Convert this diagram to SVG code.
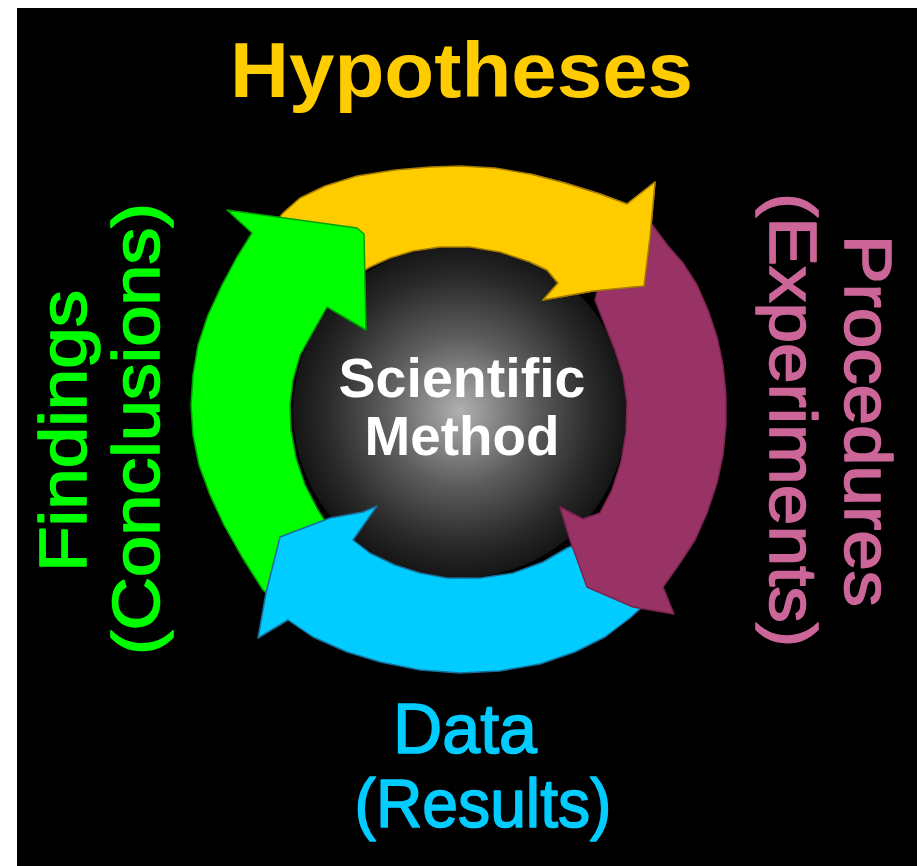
<svg xmlns="http://www.w3.org/2000/svg" xmlns:xlink="http://www.w3.org/1999/xlink" width="921" height="866" viewBox="0 0 921 866">
  <defs>
    <radialGradient id="sphereGrad" cx="0.5" cy="0.5" r="0.5">
      <stop offset="0" stop-color="#b0b0b0"/>
      <stop offset="0.45" stop-color="#5c5c5c"/>
      <stop offset="0.8" stop-color="#2a2a2a"/>
      <stop offset="1" stop-color="#151515"/>
    </radialGradient>
    <clipPath id="yellowHeadClip">
      <rect x="530" y="150" width="180" height="160"/>
    </clipPath>
    <path id="yellowShape" d="M265,235 L283,213 L300,198 L325,186 L357,176 L395,170 L430,167 L460,166 L495,168 L530,174 L565,183 L600,194 L627,204 L655,182 L650,237 L644,286 L593,291 L543,300 L558,283 L547,270 L530,262 L500,252 L470,247 L440,247 L413,251 L390,258 L370,267 L340,285 Z"/>
  </defs>
  <style>
    .lbl { font-family: "Liberation Sans", Arial, sans-serif; font-weight: bold; }
    .side { font-family: "Liberation Sans", Arial, sans-serif; font-weight: normal; stroke-width: 1.6; stroke-linejoin: round; }
    .arrow { stroke-width: 1.5; stroke-linejoin: round; }
    .yellow { fill: #ffcc00; stroke: #a67c00; }
    .green { fill: #00ff00; stroke: #00a000; }
    .cyan { fill: #00ccff; stroke: #1a6e9a; }
    .purple { fill: #993366; stroke: #7a2450; }
  </style>

  <rect x="0" y="0" width="921" height="866" fill="#ffffff"/>
  <rect x="17" y="8" width="900" height="858" fill="#000000"/>

  <g id="center">
    <circle cx="460" cy="411" r="167" fill="url(#sphereGrad)"/>
    <text class="lbl" x="462" y="397" font-size="56" fill="#ffffff" text-anchor="middle" textLength="247" lengthAdjust="spacingAndGlyphs">Scientific</text>
    <text class="lbl" x="462" y="455" font-size="56" fill="#ffffff" text-anchor="middle" textLength="195" lengthAdjust="spacingAndGlyphs">Method</text>
  </g>

  <g id="connectors">
    <use id="arrow-hypotheses" xlink:href="#yellowShape" class="arrow yellow"/>
    <path id="arrow-findings" class="arrow green" d="M227,210 L357,228 L364,234 L366,330 L327,307 L310,337 L300,355 L293,380 L290,405 L291,430 L296,458 L305,485 L318,510 L340,545 L285,610 L263,590 L242,557 L224,525 L210,495 L199,465 L193,435 L191,405 L193,375 L198,345 L208,315 L222,285 L237,257 L252,233 Z"/>
    <path id="arrow-data" class="arrow cyan" d="M258,638 L266,593 L280,537 L330,518 L363,512 L377,506 L353,540 L370,553 L395,565 L420,573 L447,578 L480,578 L513,573 L543,562 L567,548 L600,535 L650,600 L630,618 L605,637 L575,652 L540,664 L500,671 L460,673 L420,670 L380,662 L347,652 L313,637 L288,620 Z"/>
    <path id="arrow-procedures" class="arrow purple" d="M645,215 L668,246 L683,263 L697,285 L708,310 L717,337 L723,365 L726,395 L726,425 L723,455 L717,483 L707,513 L695,540 L680,563 L663,587 L674,614 L633,607 L587,587 L570,540 L560,507 L583,519 L600,513 L612,490 L621,462 L626,432 L627,403 L623,375 L615,350 L605,325 L595,300 L600,280 Z"/>
    <use xlink:href="#yellowShape" class="arrow yellow" clip-path="url(#yellowHeadClip)"/>
  </g>

  <g id="hypotheses">
    <text class="lbl" x="461.5" y="97" font-size="77" fill="#ffcc00" text-anchor="middle" textLength="463" lengthAdjust="spacingAndGlyphs">Hypotheses</text>
  </g>

  <g id="procedures">
    <text class="side" transform="translate(845,421) rotate(90)" x="0" y="0" font-size="66" fill="#cc6699" stroke="#cc6699" text-anchor="middle" textLength="372" lengthAdjust="spacingAndGlyphs">Procedures</text>
    <text class="side" transform="translate(770,420) rotate(90)" x="0" y="0" font-size="66" fill="#cc6699" stroke="#cc6699" text-anchor="middle" textLength="454" lengthAdjust="spacingAndGlyphs">(Experiments)</text>
  </g>

  <g id="data">
    <text class="side" x="465" y="753" font-size="71" fill="#00ccff" stroke="#00ccff" text-anchor="middle" textLength="144" lengthAdjust="spacingAndGlyphs">Data</text>
    <text class="side" x="483" y="827" font-size="68" fill="#00ccff" stroke="#00ccff" text-anchor="middle" textLength="257" lengthAdjust="spacingAndGlyphs">(Results)</text>
  </g>

  <g id="findings">
    <text class="side" transform="translate(86,431) rotate(-90)" x="0" y="0" font-size="66" fill="#00ff00" stroke="#00ff00" text-anchor="middle" textLength="282" lengthAdjust="spacingAndGlyphs">Findings</text>
    <text class="side" transform="translate(159,429) rotate(-90)" x="0" y="0" font-size="66" fill="#00ff00" stroke="#00ff00" text-anchor="middle" textLength="452" lengthAdjust="spacingAndGlyphs">(Conclusions)</text>
  </g>
</svg>
